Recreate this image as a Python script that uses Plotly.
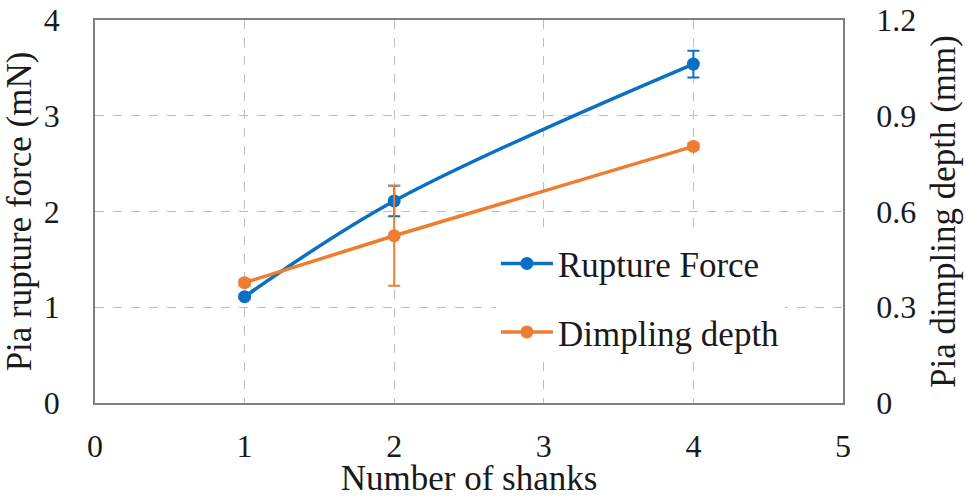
import plotly.graph_objects as go

shanks = [1, 2, 4]
rupture_force = [1.11, 2.11, 3.54]
rupture_err = [0.02, 0.16, 0.14]
dimpling_depth = [0.377, 0.524, 0.804]
dimpling_err = [0.01, 0.157, 0.01]

x_ticks = [0, 1, 2, 3, 4, 5]
y1_ticks = [0, 1, 2, 3, 4]
y2_ticks = [0, 0.3, 0.6, 0.9, 1.2]
y2_labels = ["0", "0.3", "0.6", "0.9", "1.2"]

BLUE = "#0A70C4"
ORANGE = "#ED7D31"
FONT = "Liberation Serif"

fig = go.Figure()
fig.add_trace(go.Scatter(
    x=shanks, y=rupture_force, name="Rupture Force", mode="lines+markers",
    line=dict(color=BLUE, width=3.5, shape="spline", smoothing=1.0),
    marker=dict(color=BLUE, size=13),
    error_y=dict(type="data", array=rupture_err, color=BLUE, thickness=2, width=6),
    legendgroup="a", yaxis="y",
))
fig.add_trace(go.Scatter(
    x=shanks, y=dimpling_depth, name="Dimpling depth", mode="lines+markers",
    line=dict(color=ORANGE, width=3.5),
    marker=dict(color=ORANGE, size=13),
    error_y=dict(type="data", array=dimpling_err, color=ORANGE, thickness=2, width=6),
    legendgroup="b", yaxis="y2",
))

grid = dict(showgrid=True, gridcolor="#BDBDBD", griddash="dash", gridwidth=1.2)
fig.update_layout(
    width=974, height=498,
    margin=dict(l=95, r=131, t=20, b=95, autoexpand=False),
    paper_bgcolor="white", plot_bgcolor="white",
    font=dict(family=FONT, size=32, color="#1a1a1a"),
    xaxis=dict(range=[0, 5], tickvals=x_ticks, **grid, zeroline=False, automargin=False,
               showline=True, linecolor="#7F7F7F", linewidth=1.5, mirror=True,
               ticks="", ticklabelstandoff=14, ticklabeloverflow="allow",
               title=dict(text="Number of shanks", font=dict(size=35), standoff=4)),
    yaxis=dict(range=[0, 4], tickvals=y1_ticks, **grid, zeroline=False, automargin=False,
               showline=True, linecolor="#7F7F7F", linewidth=1.5,
               ticks="", ticklabelstandoff=27, ticklabeloverflow="allow",
               title=dict(text="Pia rupture force (mN)", font=dict(size=35), standoff=3)),
    yaxis2=dict(range=[0, 1.2], tickvals=y2_ticks, ticktext=y2_labels, overlaying="y",
                side="right", showgrid=False, zeroline=False, automargin=False,
                showline=True, linecolor="#7F7F7F", linewidth=1.5,
                ticks="", ticklabelstandoff=25, ticklabeloverflow="allow",
                title=dict(text="Pia dimpling depth (mm)", font=dict(size=35), standoff=15)),
    legend=dict(x=0.536, y=0.275, xanchor="left", yanchor="middle",
                bgcolor="white", borderwidth=0, font=dict(size=35),
                traceorder="grouped", tracegroupgap=20, itemwidth=52),
    showlegend=True,
)

fig.write_html("out.html", config={"displayModeBar": False},
               post_script="document.body.style.margin='0px';")
